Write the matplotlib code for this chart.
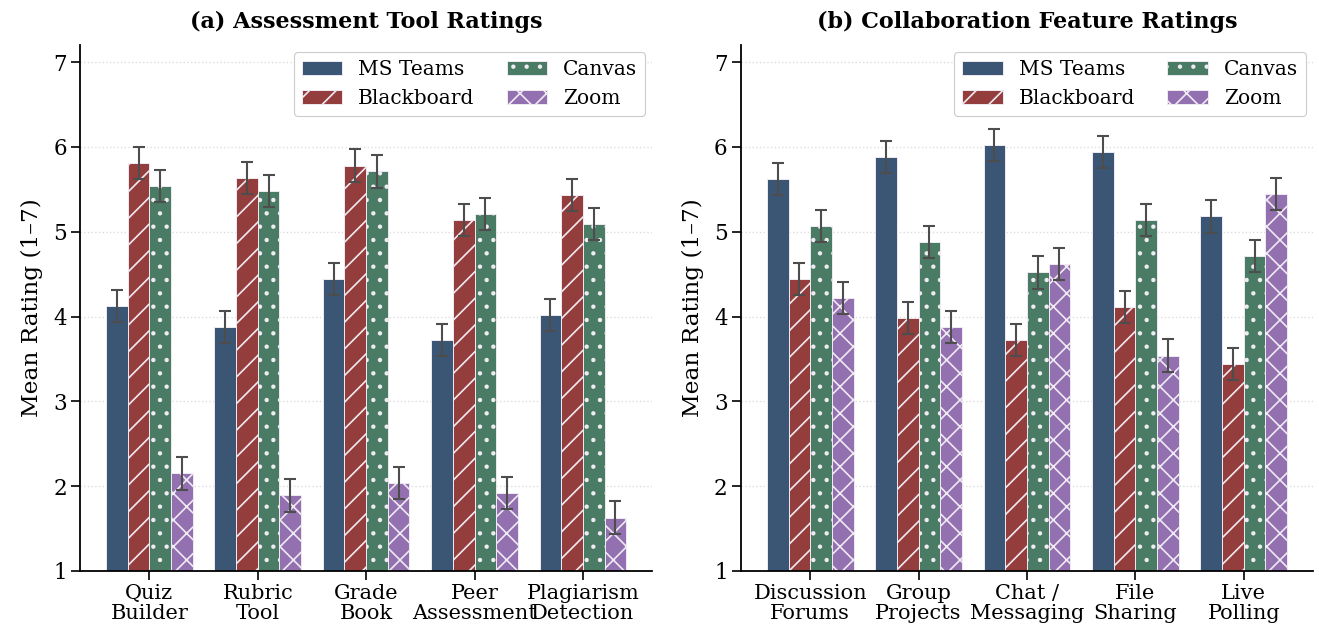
import matplotlib.pyplot as plt
import numpy as np

# Platform names and styling
platforms = ["MS Teams", "Blackboard", "Canvas", "Zoom"]
colors = ["#3B5675", "#943D3D", "#4A7C65", "#9370B0"]
hatches = ["", "/", ".", "x"]

# (a) Assessment tool ratings
assess_labels = ["Quiz\nBuilder", "Rubric\nTool", "Grade\nBook", "Peer\nAssessment", "Plagiarism\nDetection"]
assess_teams = [4.12, 3.88, 4.44, 3.72, 4.02]
assess_blackboard = [5.81, 5.63, 5.78, 5.14, 5.43]
assess_canvas = [5.54, 5.48, 5.71, 5.21, 5.09]
assess_zoom = [2.15, 1.89, 2.04, 1.92, 1.63]
assess_err = [0.19, 0.19, 0.19, 0.19, 0.19]

# (b) Collaboration feature ratings
collab_labels = ["Discussion\nForums", "Group\nProjects", "Chat /\nMessaging", "File\nSharing", "Live\nPolling"]
collab_teams = [5.62, 5.88, 6.02, 5.94, 5.18]
collab_blackboard = [4.44, 3.98, 3.72, 4.11, 3.44]
collab_canvas = [5.07, 4.88, 4.52, 5.14, 4.71]
collab_zoom = [4.22, 3.88, 4.62, 3.54, 5.44]
collab_err = [0.19, 0.19, 0.19, 0.19, 0.19]

# figure drawn at dpi 80 so hatches come out a bit denser; sizes below are
# given as if dpi were 100 and scaled by S
DPI = 80
S = 100 / DPI

plt.rcParams["font.family"] = "DejaVu Serif"
plt.rcParams["hatch.linewidth"] = 1.2 * S

fig, axes = plt.subplots(1, 2, figsize=(1319 / DPI, 635 / DPI), dpi=DPI)
fig.subplots_adjust(left=0.0607, right=0.9955, bottom=0.1008, top=0.929, wspace=0.155)

panels = [
    (axes[0], "(a) Assessment Tool Ratings", assess_labels,
     [assess_teams, assess_blackboard, assess_canvas, assess_zoom], assess_err),
    (axes[1], "(b) Collaboration Feature Ratings", collab_labels,
     [collab_teams, collab_blackboard, collab_canvas, collab_zoom], collab_err),
]

width = 0.2
for ax, title, labels, series, err in panels:
    x = np.arange(len(labels))
    for i, vals in enumerate(series):
        ax.bar(x + (i - 1.5) * width, vals, width, yerr=err, color=colors[i],
               hatch=hatches[i], edgecolor="#f0eaf2", linewidth=0.7 * S,
               label=platforms[i],
               error_kw=dict(ecolor="#4d4d4d", elinewidth=1.5 * S,
                             capsize=4 * S, capthick=1.5 * S))
    ax.set_ylim(1, 7.2)
    ax.set_yticks(range(1, 8))
    ax.set_xticks(x)
    ax.set_xticklabels(labels, fontsize=15 * S, linespacing=1.05)
    ax.tick_params(axis="y", labelsize=15.5 * S)
    ax.tick_params(length=6.5 * S, width=1.2 * S, pad=3 * S)
    ax.set_ylabel("Mean Rating (1–7)", fontsize=16.7 * S, labelpad=7 * S)
    ax.set_title(title, fontsize=16 * S, fontweight="bold", pad=12 * S)
    ax.grid(axis="y", linestyle=":", color="#dddddd", linewidth=1 * S)
    ax.set_axisbelow(True)
    ax.spines["top"].set_visible(False)
    ax.spines["right"].set_visible(False)
    ax.spines["left"].set_linewidth(1.3 * S)
    ax.spines["bottom"].set_linewidth(1.3 * S)
    ax.legend(ncol=2, loc="upper right", fontsize=14.5 * S, frameon=True,
              edgecolor="#cccccc", framealpha=1, handlelength=2.0,
              columnspacing=1.6, borderpad=0.4, borderaxespad=0.35)

fig.savefig("out.png", dpi=DPI)
